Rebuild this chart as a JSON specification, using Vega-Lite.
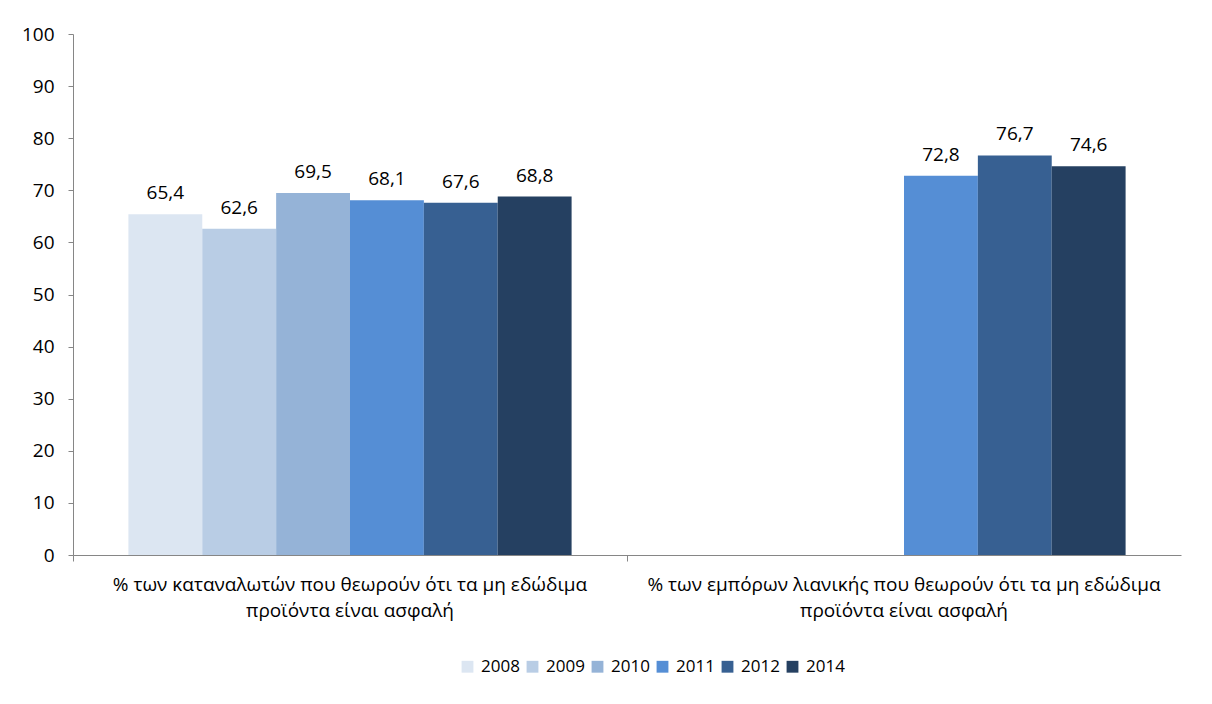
{
  "$schema": "https://vega.github.io/schema/vega-lite/v6.json",
  "autosize": "none",
  "width": 1108,
  "height": 521,
  "padding": {"left": 73, "top": 34, "right": 31, "bottom": 149},
  "background": "white",
  "config": {
    "view": {"stroke": null},
    "font": "Open Sans",
    "locale": {"number": {"decimal": ",", "thousands": ".", "grouping": [3], "currency": ["", " €"]}}
  },
  "data": {
    "values": [
      {"cat": "% των καταναλωτών που θεωρούν ότι τα μη εδώδιμα προϊόντα είναι ασφαλή", "year": "2008", "value": 65.4},
      {"cat": "% των καταναλωτών που θεωρούν ότι τα μη εδώδιμα προϊόντα είναι ασφαλή", "year": "2009", "value": 62.6},
      {"cat": "% των καταναλωτών που θεωρούν ότι τα μη εδώδιμα προϊόντα είναι ασφαλή", "year": "2010", "value": 69.5},
      {"cat": "% των καταναλωτών που θεωρούν ότι τα μη εδώδιμα προϊόντα είναι ασφαλή", "year": "2011", "value": 68.1},
      {"cat": "% των καταναλωτών που θεωρούν ότι τα μη εδώδιμα προϊόντα είναι ασφαλή", "year": "2012", "value": 67.6},
      {"cat": "% των καταναλωτών που θεωρούν ότι τα μη εδώδιμα προϊόντα είναι ασφαλή", "year": "2014", "value": 68.8},
      {"cat": "% των εμπόρων λιανικής που θεωρούν ότι τα μη εδώδιμα προϊόντα είναι ασφαλή", "year": "2011", "value": 72.8},
      {"cat": "% των εμπόρων λιανικής που θεωρούν ότι τα μη εδώδιμα προϊόντα είναι ασφαλή", "year": "2012", "value": 76.7},
      {"cat": "% των εμπόρων λιανικής που θεωρούν ότι τα μη εδώδιμα προϊόντα είναι ασφαλή", "year": "2014", "value": 74.6}
    ]
  },
  "encoding": {
    "x": {
      "field": "cat", "type": "nominal", "sort": null,
      "scale": {"paddingInner": 0, "paddingOuter": 0},
      "axis": {
        "title": null, "labelAngle": 0, "labelFontSize": 19, "labelColor": "#000000",
        "labelPadding": 14, "labelLineHeight": 26, "labelLimit": 700,
        "bandPosition": 0, "tickSize": 6, "domainColor": "#868686", "tickColor": "#868686",
        "labelExpr": "[substring(datum.label, 0, indexof(datum.label, ' προϊόντα')), substring(datum.label, indexof(datum.label, ' προϊόντα') + 1)]"
      }
    },
    "xOffset": {
      "field": "year", "type": "nominal",
      "scale": {"domain": ["2008", "2009", "2010", "2011", "2012", "2014"], "paddingInner": 0, "paddingOuter": 0.75}
    },
    "y": {
      "field": "value", "type": "quantitative",
      "scale": {"domain": [0, 100], "nice": false},
      "axis": {
        "title": null, "values": [0, 10, 20, 30, 40, 50, 60, 70, 80, 90, 100], "grid": false,
        "labelFontSize": 19, "labelColor": "#000000", "labelPadding": 14, "tickSize": 5,
        "domainColor": "#868686", "tickColor": "#868686"
      }
    }
  },
  "layer": [
    {
      "mark": {"type": "bar"},
      "encoding": {
        "color": {
          "field": "year", "type": "nominal",
          "scale": {"domain": ["2008", "2009", "2010", "2011", "2012", "2014"], "range": ["#DCE6F2", "#B9CDE5", "#95B3D7", "#558ED5", "#376092", "#254061"]},
          "legend": {
            "title": null, "orient": "none", "legendX": 386, "legendY": 624, "direction": "horizontal", "symbolType": "square",
            "symbolSize": 140, "symbolStrokeWidth": 0, "labelFontSize": 17, "labelColor": "#000000",
            "columnPadding": 4, "labelOffset": 5
          }
        }
      }
    },
    {
      "mark": {"type": "text", "baseline": "alphabetic", "dy": -15, "fontSize": 19, "color": "#000000"},
      "encoding": {"text": {"field": "value", "type": "quantitative", "format": ".1f"}}
    }
  ]
}
